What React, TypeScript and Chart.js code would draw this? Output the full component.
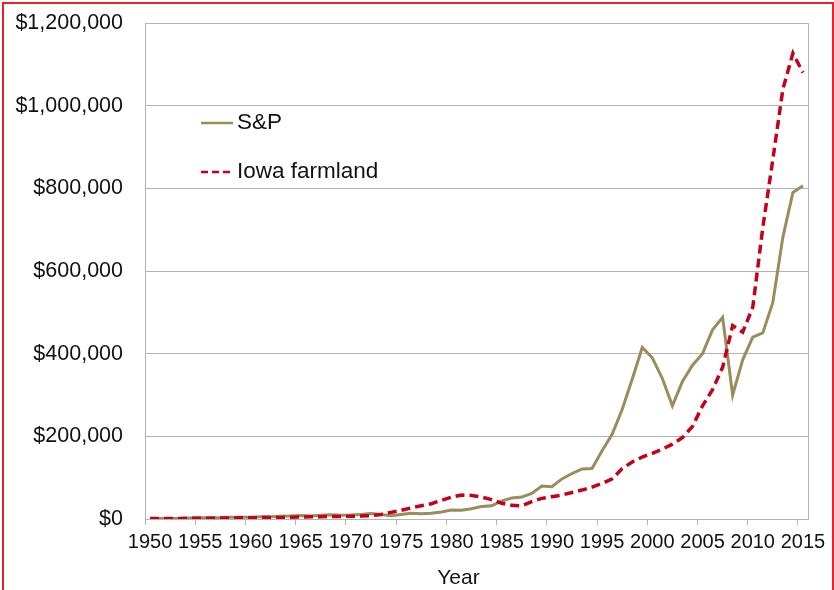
import React, { useEffect, useRef } from 'react';
import { Chart, registerables } from 'chart.js';

Chart.register(...registerables);

const years = [
  1950, 1951, 1952, 1953, 1954, 1955, 1956, 1957, 1958, 1959,
  1960, 1961, 1962, 1963, 1964, 1965, 1966, 1967, 1968, 1969,
  1970, 1971, 1972, 1973, 1974, 1975, 1976, 1977, 1978, 1979,
  1980, 1981, 1982, 1983, 1984, 1985, 1986, 1987, 1988, 1989,
  1990, 1991, 1992, 1993, 1994, 1995, 1996, 1997, 1998, 1999,
  2000, 2001, 2002, 2003, 2004, 2005, 2006, 2007, 2008, 2009,
  2010, 2011, 2012, 2013, 2014, 2015,
];

const spValues = [
  1000, 1200, 1400, 1400, 2200, 2900, 3100, 2800, 4000, 4400,
  4400, 5600, 5200, 6400, 7300, 8300, 7500, 9000, 10000, 9000,
  9500, 11000, 13000, 11000, 8000, 11000, 14000, 13000, 14000, 17000,
  22000, 21000, 25000, 30000, 32000, 43000, 51000, 53000, 62000, 80000,
  78000, 97000, 110000, 121000, 122000, 165000, 205000, 265000, 338000, 415000,
  390000, 340000, 274000, 333000, 372000, 400000, 458000, 488000, 300000, 385000,
  440000, 450000, 524000, 682000, 790000, 806000,
];

const iowaValues = [
  1000, 1200, 1400, 1500, 1700, 1900, 2100, 2300, 2600, 2900,
  3100, 3300, 3600, 3900, 4300, 4700, 5200, 5600, 6000, 6300,
  6500, 7000, 8000, 11000, 16000, 21000, 27000, 32000, 37000, 45000,
  53000, 58000, 57000, 53000, 47000, 38000, 33000, 32000, 42000, 50000,
  54000, 58000, 64000, 70000, 77000, 86000, 97000, 122000, 138000, 150000,
  159000, 169000, 181000, 197000, 224000, 274000, 313000, 367000, 468000, 452000,
  512000, 705000, 870000, 1040000, 1127000, 1080000,
];

const seriesNames = ['S&P', 'Iowa farmland'];
const yTickValues = [0, 200000, 400000, 600000, 800000, 1000000, 1200000];
const xTitle = 'Year';

const SP_COLOR = '#9a8c5b';
const IOWA_COLOR = '#c4001a';
const GRID_COLOR = '#b3b3b3';
const FONT = '"Liberation Sans", Arial, sans-serif';

export default function App() {
  const ref = useRef<HTMLCanvasElement | null>(null);

  useEffect(() => {
    const canvas = ref.current;
    if (!canvas) return;

    const overlayPlugin = {
      id: 'overlay',
      afterDraw(chart: any) {
        const { ctx, chartArea } = chart;
        ctx.save();
        // right plot border
        ctx.strokeStyle = GRID_COLOR;
        ctx.lineWidth = 1;
        ctx.beginPath();
        ctx.moveTo(Math.round(chartArea.right) + 0.5, chartArea.top);
        ctx.lineTo(Math.round(chartArea.right) + 0.5, chartArea.bottom);
        ctx.stroke();

        // legend inside plot
        const lx = chartArea.left + 56;
        const y1 = chartArea.top + 100;
        const y2 = chartArea.top + 149;
        ctx.lineWidth = 2.5;
        ctx.strokeStyle = SP_COLOR;
        ctx.setLineDash([]);
        ctx.beginPath();
        ctx.moveTo(lx, y1);
        ctx.lineTo(lx + 32, y1);
        ctx.stroke();
        ctx.strokeStyle = IOWA_COLOR;
        ctx.setLineDash([7, 4]);
        ctx.beginPath();
        ctx.moveTo(lx, y2);
        ctx.lineTo(lx + 30, y2);
        ctx.stroke();
        ctx.setLineDash([]);
        ctx.fillStyle = '#111';
        ctx.font = `22.5px ${FONT}`;
        ctx.textAlign = 'left';
        ctx.textBaseline = 'middle';
        ctx.fillText(seriesNames[0], lx + 36, y1);
        ctx.fillText(seriesNames[1], lx + 36, y2);

        // x axis title
        ctx.font = `21px ${FONT}`;
        ctx.textAlign = 'center';
        ctx.fillText(xTitle, (chartArea.left + chartArea.right) / 2 - 18, 578);
        ctx.restore();
      },
    };

    const chart = new Chart(canvas, {
      type: 'line',
      data: {
        labels: years,
        datasets: [
          {
            label: seriesNames[1],
            data: iowaValues,
            borderColor: IOWA_COLOR,
            borderWidth: 3.5,
            borderDash: [9, 5],
            pointRadius: 0,
            tension: 0,
            fill: false,
          },
          {
            label: seriesNames[0],
            data: spValues,
            borderColor: SP_COLOR,
            borderWidth: 3,
            pointRadius: 0,
            tension: 0,
            fill: false,
          },
        ],
      },
      options: {
        responsive: false,
        animation: false,
        layout: { padding: { left: 0, right: 26, top: 23, bottom: 0 } },
        plugins: {
          legend: { display: false },
          tooltip: { enabled: false },
          title: { display: false },
        },
        scales: {
          x: {
            type: 'category',
            offset: true,
            afterFit(scale: any) {
              scale.height = 71;
              scale.paddingLeft = 0;
              scale.paddingRight = 0;
            },
            grid: {
              offset: true,
              drawOnChartArea: false,
              drawTicks: true,
              tickLength: 6,
              color: (c: any) => (c.index % 5 === 0 ? GRID_COLOR : 'rgba(0,0,0,0)'),
              tickColor: (c: any) => (c.index % 5 === 0 ? GRID_COLOR : 'rgba(0,0,0,0)'),
            },
            border: { display: true, color: GRID_COLOR, width: 1 },
            ticks: {
              autoSkip: false,
              maxRotation: 0,
              minRotation: 0,
              padding: 5,
              color: '#111',
              font: { family: FONT, size: 20 },
              callback: (_v: any, i: number) => (years[i] % 5 === 0 ? String(years[i]) : ''),
            },
          },
          y: {
            min: 0,
            max: 1200000,
            afterFit(scale: any) {
              scale.width = 145;
              scale.paddingTop = 0;
              scale.paddingBottom = 0;
            },
            afterBuildTicks(scale: any) {
              scale.ticks = yTickValues.map((v) => ({ value: v }));
            },
            grid: {
              color: GRID_COLOR,
              lineWidth: 1,
              drawTicks: false,
            },
            border: { display: true, color: GRID_COLOR, width: 1 },
            ticks: {
              padding: 22,
              color: '#111',
              font: { family: FONT, size: 21.5 },
              callback: (v: any) => '$' + Number(v).toLocaleString('en-US'),
            },
          },
        },
      },
      plugins: [overlayPlugin],
    });

    return () => chart.destroy();
  }, []);

  return (
    <div
      style={{
        position: 'absolute',
        left: 0,
        top: 0,
        width: 834,
        height: 590,
        background: '#fff',
        overflow: 'hidden',
      }}
    >
      <canvas ref={ref} width={834} height={590} style={{ position: 'absolute', left: 0, top: 0 }} />
      <div
        style={{
          position: 'absolute',
          left: 2,
          top: 2,
          width: 832,
          height: 640,
          border: '2px solid #e8212f',
          boxSizing: 'border-box',
          pointerEvents: 'none',
        }}
      />
    </div>
  );
}
